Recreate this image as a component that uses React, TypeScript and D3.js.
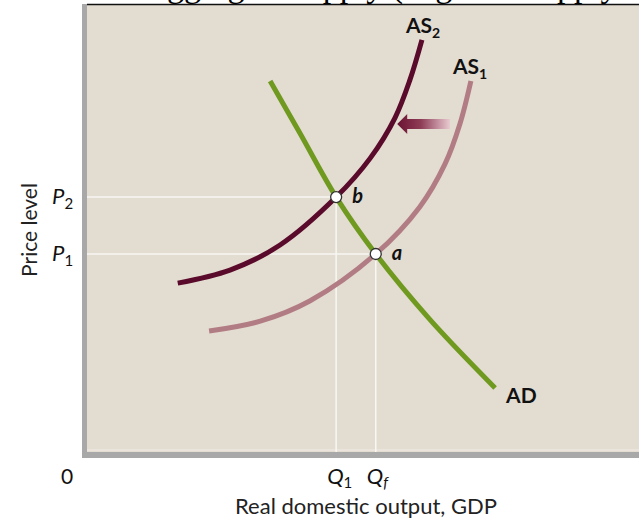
import React from "react";
import * as d3 from "d3";

// Curve definitions in model units (output on x, price level on y), 0–100 each.
const adCurve: [number, number][] = [
  [33.3, 82.8],
  [38.7, 71.2],
  [45.3, 56.9],
  [52.5, 44.2],
  [62.4, 29.5],
  [74.2, 14.3],
];

const as1Curve: [number, number][] = [
  [22.2, 27.0],
  [31.5, 29.2],
  [40.5, 33.7],
  [52.5, 44.2],
  [60.5, 54.7],
  [65.1, 64.3],
  [67.8, 73.2],
  [69.8, 82.8],
];

const as2Curve: [number, number][] = [
  [16.5, 37.7],
  [26.0, 40.6],
  [35.1, 46.2],
  [45.3, 56.9],
  [51.5, 65.6],
  [56.0, 74.6],
  [58.7, 83.0],
  [60.9, 92.0],
];

const equilibria = [
  { id: "b", q: 45.3, p: 56.9 },
  { id: "a", q: 52.5, p: 44.2 },
];

const priceTicks = [
  { base: "P", sub: "2", value: 56.9 },
  { base: "P", sub: "1", value: 44.2 },
];

const outputTicks = [
  { base: "Q", sub: "1", value: 45.3 },
  { base: "Q", sub: "f", value: 52.5 },
];

const shiftArrow = { from: 66.0, to: 56.4, price: 73.2 };

const W = 639;
const H = 523;
const LEFT = 87;
const TOP = 4;
const BOTTOM = 452;

const SANS = "Lato, 'Open Sans', sans-serif";
const SERIF = "'Liberation Serif', 'DejaVu Serif', serif";

export default function App() {
  const x = d3.scaleLinear().domain([0, 100]).range([LEFT, 637]);
  const y = d3.scaleLinear().domain([0, 100]).range([BOTTOM, TOP]);

  const line = d3
    .line<[number, number]>()
    .x((d) => x(d[0]))
    .y((d) => y(d[1]))
    .curve(d3.curveCatmullRom.alpha(0.5));

  const as2End = as2Curve[as2Curve.length - 1];
  const as1End = as1Curve[as1Curve.length - 1];
  const adEnd = adCurve[adCurve.length - 1];

  const tipX = x(shiftArrow.to);
  const tailX = x(shiftArrow.from);
  const ay = y(shiftArrow.price);
  const arrowPath = [
    `M${tipX},${ay}`,
    `L${tipX + 10},${ay - 10}`,
    `L${tipX + 10},${ay - 5}`,
    `L${tailX},${ay - 5}`,
    `L${tailX},${ay + 5}`,
    `L${tipX + 10},${ay + 5}`,
    `L${tipX + 10},${ay + 10}`,
    "Z",
  ].join(" ");

  return (
    <svg
      width={W}
      height={H}
      style={{ position: "absolute", left: 0, top: 0, background: "#ffffff" }}
    >
      <defs>
        <linearGradient id="shiftGrad" x1="0" x2="1" y1="0" y2="0">
          <stop offset="0" stopColor="#6a1232" />
          <stop offset="0.45" stopColor="#8f3d57" />
          <stop offset="1" stopColor="#e8cbd1" />
        </linearGradient>
      </defs>

      {/* heading */}
      <text
        x={143}
        y={-3}
        textAnchor="end"
        fontFamily={SERIF}
        fontSize={34}
        fill="#000"
      >
        A decrease in
      </text>
      <text x={152} y={-3} fontFamily={SERIF} fontSize={34} fill="#000">
        aggregate supply (negative supply shock)
      </text>

      {/* plot panel with shadow edge */}
      <rect x={82} y={TOP} width={W - 82} height={458 - TOP} fill="#a8a8a8" />
      <rect
        x={LEFT}
        y={TOP}
        width={W - LEFT}
        height={BOTTOM - TOP}
        fill="#e3dcd1"
      />
      <line
        x1={LEFT}
        x2={W}
        y1={BOTTOM - 2}
        y2={BOTTOM - 2}
        stroke="#ece7df"
        strokeWidth={1.5}
      />
      <line
        x1={LEFT}
        x2={W}
        y1={TOP + 0.5}
        y2={TOP + 0.5}
        stroke="#111"
        strokeWidth={1.4}
      />

      {/* guide lines to the axes */}
      {equilibria.map((e) => (
        <g key={`g-${e.id}`}>
          <line
            x1={LEFT}
            x2={x(e.q)}
            y1={y(e.p)}
            y2={y(e.p)}
            stroke="#f9f7f3"
            strokeWidth={1.5}
          />
          <line
            x1={x(e.q)}
            x2={x(e.q)}
            y1={y(e.p)}
            y2={BOTTOM}
            stroke="#f9f7f3"
            strokeWidth={1.5}
          />
        </g>
      ))}

      {/* curves */}
      <path
        d={line(as1Curve) ?? ""}
        fill="none"
        stroke="#b27c84"
        strokeWidth={5}
      />
      <path
        d={line(as2Curve) ?? ""}
        fill="none"
        stroke="#5a0a2a"
        strokeWidth={5}
      />
      <path
        d={line(adCurve) ?? ""}
        fill="none"
        stroke="#6f9a1f"
        strokeWidth={5}
      />

      {/* shift arrow */}
      <path d={arrowPath} fill="url(#shiftGrad)" />

      {/* equilibrium points */}
      {equilibria.map((e) => (
        <g key={`p-${e.id}`}>
          <circle
            cx={x(e.q)}
            cy={y(e.p)}
            r={5.5}
            fill="#ffffff"
            stroke="#333"
            strokeWidth={1.3}
          />
          <text
            x={x(e.q) + 16}
            y={y(e.p) + 6}
            fontFamily={SANS}
            fontStyle="italic"
            fontWeight={700}
            fontSize={20}
            fill="#111"
          >
            {e.id}
          </text>
        </g>
      ))}

      {/* curve labels */}
      <text
        x={x(as2End[0]) - 16}
        y={y(as2End[1]) - 7}
        fontFamily={SANS}
        fontWeight={700}
        fontSize={21}
        fill="#111"
      >
        AS
        <tspan fontSize={14} dy={5}>
          2
        </tspan>
      </text>
      <text
        x={x(as1End[0]) - 18}
        y={y(as1End[1]) - 7}
        fontFamily={SANS}
        fontWeight={700}
        fontSize={21}
        fill="#111"
      >
        AS
        <tspan fontSize={14} dy={5}>
          1
        </tspan>
      </text>
      <text
        x={x(adEnd[0]) + 11}
        y={y(adEnd[1]) + 15}
        fontFamily={SANS}
        fontWeight={700}
        fontSize={21}
        fill="#111"
      >
        AD
      </text>

      {/* price level labels */}
      {priceTicks.map((t) => (
        <text
          key={`pt-${t.sub}`}
          x={52}
          y={y(t.value) + 7}
          fontFamily={SANS}
          fontSize={22}
          fill="#111"
        >
          <tspan fontStyle="italic">{t.base}</tspan>
          <tspan fontSize={15} dy={5}>
            {t.sub}
          </tspan>
        </text>
      ))}

      {/* output labels */}
      <text
        x={67}
        y={484}
        textAnchor="middle"
        fontFamily={SANS}
        fontSize={21}
        fill="#111"
      >
        0
      </text>
      {outputTicks.map((t) => (
        <text
          key={`qt-${t.sub}`}
          x={x(t.value) - 9}
          y={484}
          fontFamily={SANS}
          fontSize={22}
          fill="#111"
        >
          <tspan fontStyle="italic">{t.base}</tspan>
          <tspan fontSize={15} dy={4} fontStyle={t.sub === "f" ? "italic" : "normal"}>
            {t.sub}
          </tspan>
        </text>
      ))}

      {/* axis titles */}
      <text
        x={366}
        y={514}
        textAnchor="middle"
        fontFamily={SANS}
        fontSize={22}
        fill="#222"
      >
        Real domestic output, GDP
      </text>
      <text
        transform={`translate(37,230) rotate(-90)`}
        textAnchor="middle"
        fontFamily={SANS}
        fontSize={21}
        fill="#222"
      >
        Price level
      </text>
    </svg>
  );
}
